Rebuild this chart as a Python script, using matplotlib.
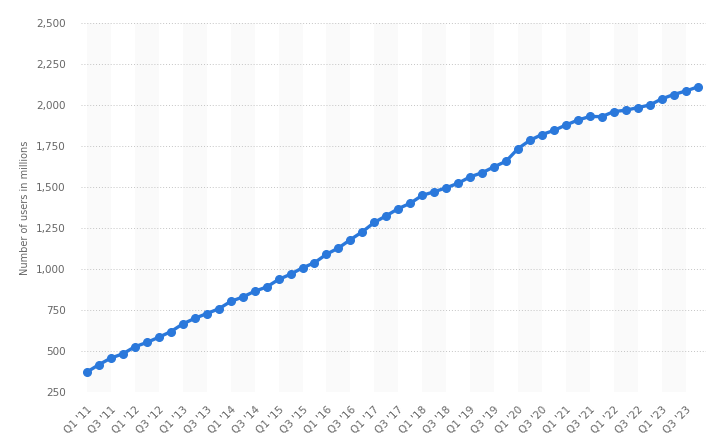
import matplotlib
matplotlib.use("Agg")
import matplotlib.pyplot as plt
import numpy as np

# Quarterly data, Q1 '11 .. Q4 '23
quarters = [f"Q{q} '{y:02d}" for y in range(11, 24) for q in range(1, 5)]
users = [372, 417, 457, 483, 526, 552, 584, 618, 665, 699, 728, 757,
         802, 829, 864, 890, 936, 968, 1007, 1038, 1090, 1128, 1179, 1227,
         1284, 1325, 1368, 1401, 1449, 1471, 1495, 1523, 1562, 1587, 1623, 1657,
         1734, 1785, 1820, 1845, 1878, 1908, 1930, 1929, 1960, 1968, 1984, 2000,
         2037, 2064, 2085, 2110]
y_ticks = [250, 500, 750, 1000, 1250, 1500, 1750, 2000, 2250, 2500]

LINE = "#2a78db"
TXT = "#666666"

fig = plt.figure(figsize=(7.14, 4.45), dpi=100)
ax = fig.add_axes([81 / 714, 1 - 392 / 445, (706 - 81) / 714, (392 - 23) / 445])

x = np.arange(len(users))

# alternating light bands
for i in range(0, len(users), 4):
    ax.axvspan(i, i + 2, color="#fafafa", zorder=0, lw=0)

ax.plot(x, users, color=LINE, lw=2.4, marker="o", ms=5.5, zorder=3)

ax.set_xlim(-0.5, 51.7)
ax.set_ylim(250, 2500)
ax.set_yticks(y_ticks)
ax.set_yticklabels([f"{v:,}" for v in y_ticks])
ax.yaxis.grid(True, linestyle=(0, (1, 2)), color="#c4c4c4", lw=0.7)
ax.set_axisbelow(True)

ax.set_xticks(x[::2])
ax.set_xticklabels(quarters[::2], rotation=45, ha="right", rotation_mode="anchor")

for s in ax.spines.values():
    s.set_visible(False)
ax.tick_params(axis="both", length=0, colors=TXT, labelsize=7.5)
ax.tick_params(axis="y", pad=11)
ax.tick_params(axis="x", pad=9)

ax.set_ylabel("Number of users in millions", color=TXT, fontsize=7, labelpad=4)

fig.savefig("out.png", dpi=100, facecolor="white")
